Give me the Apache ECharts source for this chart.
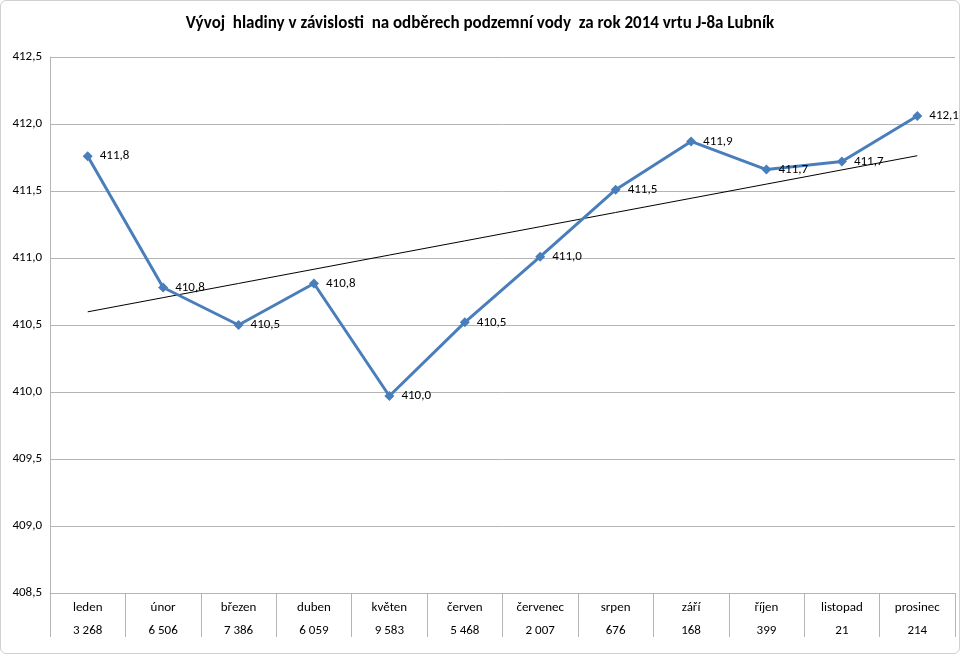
<!DOCTYPE html>
<html>
<head>
<meta charset="utf-8">
<script src="https://cdn.jsdelivr.net/npm/echarts@6/dist/echarts.min.js"></script>
<style>
html,body{margin:0;padding:0;background:#fff;}
#chart{width:960px;height:654px;box-sizing:border-box;border:1px solid #d0d0d0;border-radius:6px;}
</style>
</head>
<body>
<div id="chart"></div>
<script>
const titleText = 'Vývoj  hladiny v závislosti  na odběrech podzemní vody  za rok 2014 vrtu J-8a Lubník';
const months = ['leden','únor','březen','duben','květen','červen','červenec','srpen','září','říjen','listopad','prosinec'];
const levels = [411.76, 410.78, 410.50, 410.81, 409.97, 410.52, 411.01, 411.51, 411.87, 411.66, 411.72, 412.06];
const withdrawals = ['3 268','6 506','7 386','6 059','9 583','5 468','2 007','676','168','399','21','214'];

// linear trend (least squares) of the levels
const n = levels.length;
const mx = (n - 1) / 2;
const my = levels.reduce((a, b) => a + b, 0) / n;
let sxy = 0, sxx = 0;
levels.forEach((y, i) => { sxy += (i - mx) * (y - my); sxx += (i - mx) * (i - mx); });
const slope = sxy / sxx;
const trend = levels.map((_, i) => my + slope * (i - mx));

const font = 'Carlito, "Liberation Sans", Arial, sans-serif';
const fmt = v => v.toFixed(1).replace('.', ',');
const gridColor = '#b5b5b5';

const chart = echarts.init(document.getElementById('chart'));
chart.setOption({
  animation: false,
  title: {
    text: titleText, left: 'center', top: 9,
    textStyle: { fontFamily: font, fontSize: 17, fontWeight: 'bold', color: '#000' }
  },
  grid: { left: 49, right: 4, top: 56, bottom: 60, containLabel: false },
  xAxis: {
    type: 'category', data: months, boundaryGap: true,
    axisLine: { show: true, lineStyle: { color: gridColor, width: 1 } },
    axisTick: { show: true, interval: 0, length: 44, lineStyle: { color: gridColor } },
    axisLabel: {
      interval: 0, margin: 3,
      formatter: (v, i) => '{a|' + v + '}\n{b|' + withdrawals[i] + '}',
      rich: {
        a: { fontFamily: font, fontSize: 13, color: '#000', lineHeight: 23 },
        b: { fontFamily: font, fontSize: 13, color: '#000', lineHeight: 23 }
      }
    }
  },
  yAxis: {
    type: 'value', min: 408.5, max: 412.5, interval: 0.5,
    axisLine: { show: true, lineStyle: { color: gridColor } },
    axisTick: { show: false },
    splitLine: { show: true, lineStyle: { color: gridColor, width: 1 } },
    axisLabel: { fontFamily: font, fontSize: 13, color: '#000', margin: 8, formatter: v => fmt(v) }
  },
  series: [
    {
      type: 'line', data: levels, symbol: 'diamond', symbolSize: 10,
      lineStyle: { color: '#4a7ebb', width: 3 },
      itemStyle: { color: '#4a7ebb' },
      label: {
        show: true, position: 'right', distance: 7,
        fontFamily: font, fontSize: 13, color: '#000',
        formatter: p => fmt(p.value)
      },
      z: 3
    },
    {
      type: 'line', data: trend, symbol: 'none', silent: true,
      lineStyle: { color: '#000', width: 1 },
      z: 2
    }
  ]
});
</script>
</body>
</html>
